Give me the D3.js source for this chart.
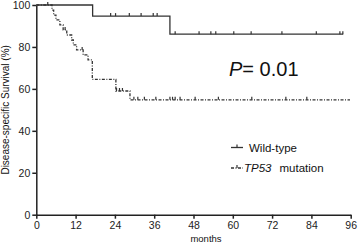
<!DOCTYPE html>
<html>
<head>
<meta charset="utf-8">
<script src="https://cdn.jsdelivr.net/npm/d3@7"></script>
<style>
  body { margin: 0; background: #fff; }
  svg { display: block; font-family: "Liberation Sans", Arial, sans-serif; }
  .axis path, .axis line { stroke: #222; stroke-width: 1.5; }
  .axis text { font-size: 10.5px; fill: #222; }
  .curve { fill: none; stroke: #333; stroke-width: 1.3; }
  .censor { stroke: #333; stroke-width: 1.2; }
</style>
</head>
<body>
<div id="chart"></div>
<script>
// tick labels
const xTicks = [0, 12, 24, 36, 48, 60, 72, 84, 96];
const yTicks = [0, 20, 40, 60, 80, 100];

// Wild-type: step times (months) and survival (%)
const wtTimes = [0, 17.2, 40.8, 93.7];
const wtSurv = [100, 94.7, 86.1, 86.1];
const wtCensor = [3.5, 22.7, 24.2, 28.4, 32.0, 35.7, 36.9, 42.4, 49.7, 53.3, 54.8, 60.3, 65.6, 75.0, 85.5, 92.7, 93.6];

// TP53 mutation
const mutTimes = [0, 4.8, 5.3, 6.0, 7.2, 8.2, 9.3, 10.8, 11.3, 12.3, 14.3, 15.8, 17.1, 24.3, 28.6, 95.8];
const mutSurv = [100, 97.6, 95.2, 92.9, 90.5, 88.1, 85.7, 83.3, 81.0, 78.6, 76.2, 73.8, 64.5, 59.0, 54.8, 54.8];
const mutCensor = [8.8, 14.0, 24.5, 25.4, 26.3, 29.8, 31.0, 33.0, 36.5, 40.8, 41.6, 42.4, 43.9, 48.5, 55.6, 65.8, 76.2, 82.6];

const width = 358, height = 245;
const x = d3.scaleLinear().domain([0, 96]).range([36.3, 350.7]);
const y = d3.scaleLinear().domain([0, 100]).range([214.7, 5]);

const svg = d3.select("#chart").append("svg")
  .attr("width", width)
  .attr("height", height);

// axes
svg.append("g")
  .attr("class", "axis")
  .attr("transform", `translate(0,${y(0)})`)
  .call(d3.axisBottom(x).tickValues(xTicks).tickSize(4).tickSizeOuter(0).tickPadding(3));

svg.append("g")
  .attr("class", "axis")
  .attr("transform", `translate(${x(0)},0)`)
  .call(d3.axisLeft(y).tickValues(yTicks).tickSize(4).tickSizeOuter(0).tickPadding(2));

svg.selectAll(".axis .domain").attr("stroke-width", 1.8);

const line = d3.line()
  .x(d => x(d[0]))
  .y(d => y(d[1]))
  .curve(d3.curveStepAfter);

function survAt(times, surv, t) {
  const i = d3.bisectRight(times, t) - 1;
  return surv[Math.max(0, i)];
}

function drawCurve(times, surv, censor, dash) {
  const g = svg.append("g");
  g.append("path")
    .attr("class", "curve")
    .attr("stroke-dasharray", dash)
    .attr("d", line(times.map((t, i) => [t, surv[i]])));
  g.selectAll("line")
    .data(censor)
    .enter()
    .append("line")
      .attr("class", "censor")
      .attr("x1", d => x(d))
      .attr("x2", d => x(d))
      .attr("y1", d => y(survAt(times, surv, d)))
      .attr("y2", d => y(survAt(times, surv, d)) - 3);
}

drawCurve(wtTimes, wtSurv, wtCensor, null);
drawCurve(mutTimes, mutSurv, mutCensor, "3,1.5,1,1.5");

// P value
svg.append("text")
  .attr("x", 229)
  .attr("y", 76)
  .attr("font-size", 20)
  .attr("fill", "#111")
  .html('<tspan font-style="italic">P</tspan>= 0.01');

// legend
const legend = svg.append("g");
const legendItems = [
  { y: 147.5, dash: null },
  { y: 168, dash: "3,1.5,1,1.5" }
];
legendItems.forEach(it => {
  legend.append("line")
    .attr("class", "curve")
    .attr("x1", 231).attr("x2", 243)
    .attr("y1", it.y).attr("y2", it.y)
    .attr("stroke-dasharray", it.dash);
  legend.append("line")
    .attr("class", "censor")
    .attr("x1", 237).attr("x2", 237)
    .attr("y1", it.y).attr("y2", it.y - 3);
});
legend.append("text")
  .attr("x", 249).attr("y", 151.5)
  .attr("font-size", 11.5).attr("fill", "#111")
  .text("Wild-type");
legend.append("text")
  .attr("x", 244).attr("y", 172)
  .attr("font-size", 11.5).attr("fill", "#111")
  .html('<tspan font-style="italic">TP53</tspan><tspan dx="8">mutation</tspan>');

// axis titles
svg.append("text")
  .attr("x", 206).attr("y", 242)
  .attr("text-anchor", "middle")
  .attr("font-size", 9.5).attr("fill", "#111")
  .text("months");

svg.append("text")
  .attr("transform", `translate(9,${y(50)}) rotate(-90)`)
  .attr("text-anchor", "middle")
  .attr("font-size", 10).attr("fill", "#111")
  .text("Disease-specific Survival (%)");
</script>
</body>
</html>
